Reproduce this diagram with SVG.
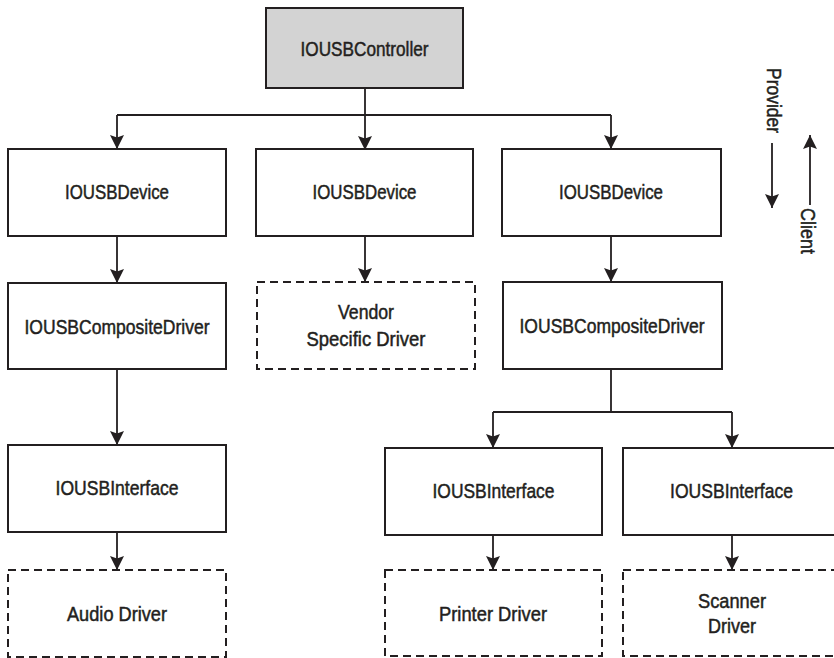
<svg xmlns="http://www.w3.org/2000/svg" width="834" height="658" viewBox="0 0 834 658">
<style>
  .box { fill: #ffffff; stroke: #231f20; stroke-width: 2; }
  .ctrl { fill: #d3d3d3; stroke: #231f20; stroke-width: 2; }
  .dash { fill: #ffffff; stroke: #231f20; stroke-width: 2; stroke-dasharray: 8 5; }
  .lbl { font-family: "Liberation Sans", Arial, sans-serif; font-size: 21px; fill: #231f20; stroke: #231f20; stroke-width: 0.5; text-anchor: middle; }
  .side { font-family: "Liberation Sans", Arial, sans-serif; font-size: 21px; fill: #231f20; stroke: #231f20; stroke-width: 0.5; }
  .wire { fill: none; stroke: #231f20; stroke-width: 1.8; }
</style>
<defs>
  <marker id="arrow" markerUnits="userSpaceOnUse" viewBox="0 0 14 14" markerWidth="14" markerHeight="14" refX="14" refY="7" orient="auto">
    <path d="M0,0 L14,7 L0,14 L2.5,7 z" fill="#231f20"/>
  </marker>
</defs>
<rect width="834" height="658" fill="#ffffff"/>

<g id="connectors">
  <path class="wire" d="M365,88 L365,150" marker-end="url(#arrow)"/>
  <path class="wire" d="M117,115 L611,115"/>
  <path class="wire" d="M117,115 L117,149" marker-end="url(#arrow)"/>
  <path class="wire" d="M611,115 L611,149" marker-end="url(#arrow)"/>
  <path class="wire" d="M117,236 L117,283" marker-end="url(#arrow)"/>
  <path class="wire" d="M117,369 L117,445" marker-end="url(#arrow)"/>
  <path class="wire" d="M117,532 L117,570" marker-end="url(#arrow)"/>
  <path class="wire" d="M365,236 L365,282" marker-end="url(#arrow)"/>
  <path class="wire" d="M611,236 L611,282" marker-end="url(#arrow)"/>
  <path class="wire" d="M611,369 L611,412"/>
  <path class="wire" d="M493,412 L732,412"/>
  <path class="wire" d="M493,412 L493,448" marker-end="url(#arrow)"/>
  <path class="wire" d="M732,412 L732,448" marker-end="url(#arrow)"/>
  <path class="wire" d="M493,535 L493,570" marker-end="url(#arrow)"/>
  <path class="wire" d="M732,535 L732,570" marker-end="url(#arrow)"/>
</g>

<g id="controller">
  <rect class="ctrl" x="266" y="8" width="197" height="80"/>
  <text class="lbl" x="364.5" y="56" textLength="128" lengthAdjust="spacingAndGlyphs">IOUSBController</text>
</g>

<g id="device-left">
  <rect class="box" x="8" y="149" width="218" height="87"/>
  <text class="lbl" x="117" y="199" textLength="104" lengthAdjust="spacingAndGlyphs">IOUSBDevice</text>
</g>
<g id="device-mid">
  <rect class="box" x="256" y="149" width="217" height="87"/>
  <text class="lbl" x="364.5" y="199" textLength="104" lengthAdjust="spacingAndGlyphs">IOUSBDevice</text>
</g>
<g id="device-right">
  <rect class="box" x="502" y="149" width="219" height="87"/>
  <text class="lbl" x="611" y="199" textLength="104" lengthAdjust="spacingAndGlyphs">IOUSBDevice</text>
</g>

<g id="composite-left">
  <rect class="box" x="8" y="283" width="218" height="86"/>
  <text class="lbl" x="117" y="334" textLength="185" lengthAdjust="spacingAndGlyphs">IOUSBCompositeDriver</text>
</g>
<g id="vendor-driver">
  <rect class="dash" x="257" y="282" width="218" height="87"/>
  <text class="lbl" x="366" y="319" textLength="56" lengthAdjust="spacingAndGlyphs">Vendor</text>
  <text class="lbl" x="366" y="346" textLength="119" lengthAdjust="spacingAndGlyphs">Specific Driver</text>
</g>
<g id="composite-right">
  <rect class="box" x="503" y="282" width="219" height="87"/>
  <text class="lbl" x="612" y="333" textLength="185" lengthAdjust="spacingAndGlyphs">IOUSBCompositeDriver</text>
</g>

<g id="interface-left">
  <rect class="box" x="8" y="445" width="218" height="87"/>
  <text class="lbl" x="117" y="495" textLength="123" lengthAdjust="spacingAndGlyphs">IOUSBInterface</text>
</g>
<g id="interface-printer">
  <rect class="box" x="385" y="448" width="217" height="87"/>
  <text class="lbl" x="493.5" y="498" textLength="122" lengthAdjust="spacingAndGlyphs">IOUSBInterface</text>
</g>
<g id="interface-scanner">
  <rect class="box" x="623" y="448" width="218" height="87"/>
  <text class="lbl" x="731.5" y="498" textLength="123" lengthAdjust="spacingAndGlyphs">IOUSBInterface</text>
</g>

<g id="audio-driver">
  <rect class="dash" x="8" y="570" width="218" height="87"/>
  <text class="lbl" x="117" y="621" textLength="100" lengthAdjust="spacingAndGlyphs">Audio Driver</text>
</g>
<g id="printer-driver">
  <rect class="dash" x="385" y="570" width="217" height="86"/>
  <text class="lbl" x="493" y="621" textLength="108" lengthAdjust="spacingAndGlyphs">Printer Driver</text>
</g>
<g id="scanner-driver">
  <rect class="dash" x="623" y="570" width="218" height="86"/>
  <text class="lbl" x="732" y="608" textLength="68" lengthAdjust="spacingAndGlyphs">Scanner</text>
  <text class="lbl" x="732" y="633" textLength="48" lengthAdjust="spacingAndGlyphs">Driver</text>
</g>

<g id="legend">
  <text class="side" transform="translate(767,68) rotate(90)" textLength="65" lengthAdjust="spacingAndGlyphs">Provider</text>
  <path class="wire" d="M772,143 L772,208" marker-end="url(#arrow)"/>
  <text class="side" transform="translate(801,208) rotate(90)" textLength="46" lengthAdjust="spacingAndGlyphs">Client</text>
  <path class="wire" d="M810,205 L810,135" marker-end="url(#arrow)"/>
</g>
</svg>
